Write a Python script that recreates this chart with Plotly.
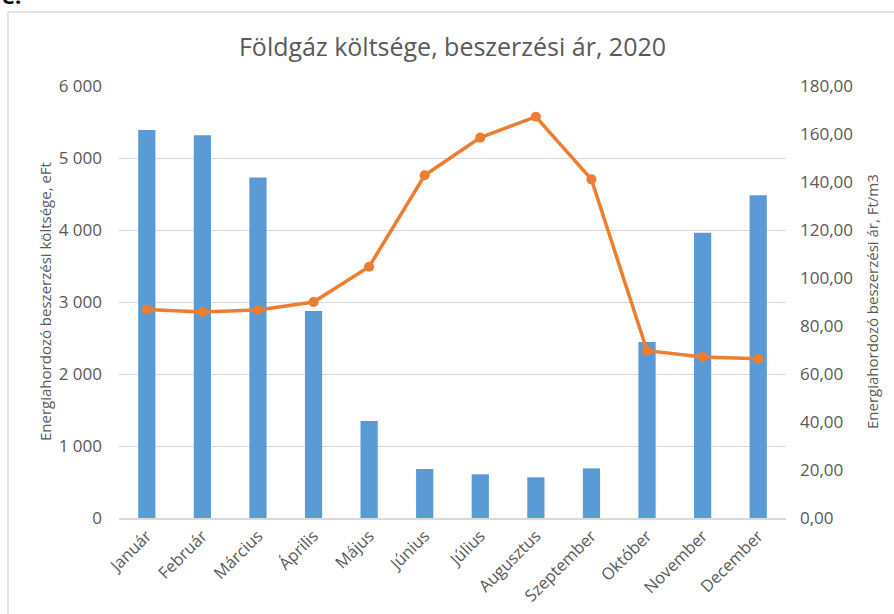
import plotly.graph_objects as go

months = ["Január", "Február", "Március", "Április", "Május", "Június",
          "Július", "Augusztus", "Szeptember", "Október", "November", "December"]
cost_eft = [5390, 5315, 4730, 2875, 1347, 681, 607, 565, 690, 2444, 3963, 4481]
price_ft_m3 = [86.9, 85.8, 86.7, 90.0, 104.7, 142.8, 158.5, 167.2, 141.1, 69.7, 67.1, 66.4]

title_text = "Földgáz költsége, beszerzési ár, 2020"
left_title = "Energiahordozó beszerzési költsége, eFt"
right_title = "Energiahordozó beszerzési ár, Ft/m3"

FONT = "Open Sans"
GREY = "#595959"

W, H = 894, 614
L, R, T, B = 119, 786, 86, 518


def px(x):
    return (x - L) / (R - L)


def py(y):
    return (B - y) / (B - T)


fig = go.Figure()
fig.add_trace(go.Bar(x=months, y=cost_eft, marker=dict(color="#5B9BD5", line=dict(width=0)),
                     name="költség", yaxis="y"))
fig.add_trace(go.Scatter(x=months, y=price_ft_m3, mode="lines+markers",
                         line=dict(color="#ED7D31", width=3.5),
                         marker=dict(color="#ED7D31", size=10),
                         name="ár", yaxis="y2"))

fig.update_layout(
    width=W, height=H,
    margin=dict(l=L, r=W - R, t=T, b=H - B, pad=0, autoexpand=False),
    paper_bgcolor="white", plot_bgcolor="white",
    separators=", ",
    showlegend=False,
    bargap=0.69,
    font=dict(family=FONT, color=GREY, size=14),
    title=dict(text=title_text, x=0.5, xref="paper", xanchor="center",
               y=1 - 47 / H, yanchor="middle",
               font=dict(family=FONT, size=25, color=GREY)),
    xaxis=dict(type="category", range=[-0.5, 11.5], tickangle=-45,
               automargin=False,
               showline=True, linecolor="#D9D9D9", linewidth=1.5,
               showgrid=False, ticks="", tickfont=dict(size=16.5, color=GREY)),
    yaxis=dict(range=[0, 6000], dtick=1000, tickformat=",d", automargin=False,
               showgrid=True, gridcolor="#D9D9D9", gridwidth=1.2,
               zeroline=False, showline=False, ticks="",
               ticklabelstandoff=16,
               tickfont=dict(size=17, color=GREY)),
    yaxis2=dict(range=[0, 180], dtick=20, tickformat=".2f", automargin=False,
                overlaying="y", side="right", showgrid=False,
                zeroline=False, showline=False, ticks="",
                ticklabelstandoff=13,
                tickfont=dict(size=17, color=GREY)),
    annotations=[
        dict(text=left_title, textangle=-90, xref="paper", yref="paper",
             x=px(45), y=py(302), xanchor="center", yanchor="middle",
             showarrow=False, font=dict(family=FONT, size=15, color=GREY)),
        dict(text=right_title, textangle=-90, xref="paper", yref="paper",
             x=px(872), y=py(302), xanchor="center", yanchor="middle",
             showarrow=False, font=dict(family=FONT, size=15, color=GREY)),
        dict(text="<b>e.</b>", xref="paper", yref="paper",
             x=px(0), y=py(12), xanchor="left", yanchor="bottom",
             showarrow=False, font=dict(family=FONT, size=22, color="black")),
    ],
    shapes=[
        dict(type="line", xref="paper", yref="paper",
             x0=px(8), x1=px(8), y0=py(12), y1=py(640),
             line=dict(color="#D9D9D9", width=1.5)),
        dict(type="line", xref="paper", yref="paper",
             x0=px(8), x1=px(900), y0=py(12), y1=py(12),
             line=dict(color="#D9D9D9", width=1.5)),
    ],
)

fig.write_html("out.html", config={"displayModeBar": False},
               post_script="document.body.style.margin='0';")
